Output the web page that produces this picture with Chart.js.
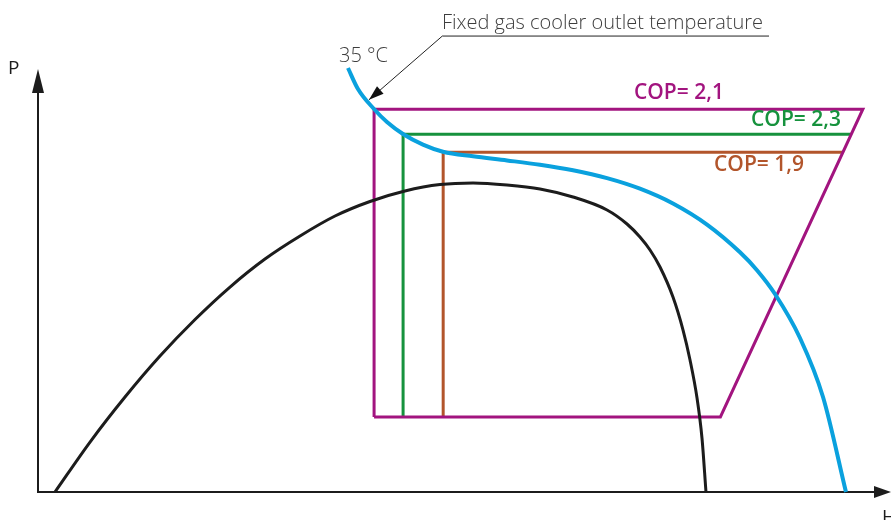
<!DOCTYPE html>
<html>
<head>
<meta charset="utf-8">
<script src="https://cdn.jsdelivr.net/npm/chart.js@4.4.1/dist/chart.umd.min.js"></script>
<style>
  body { margin: 0; background: #fff; }
  #wrap { width: 891px; height: 520px; }
</style>
</head>
<body>
<div id="wrap"><canvas id="phChart" width="891" height="520"></canvas></div>
<script>
// saturation dome (enthalpy H, pressure P) - schematic units
const domeH = [1.99, 6.10, 10.20, 14.30, 18.41, 22.51, 26.61, 30.72, 34.82, 38.92, 43.02, 47.13, 51.00, 54.98, 58.85, 62.72, 66.71, 69.05, 70.57, 71.75, 72.92, 74.44, 75.62, 76.44, 77.26, 77.84, 78.31];
const domeP = [0, 10.59, 20.13, 28.81, 36.55, 43.43, 49.36, 54.24, 58.47, 61.55, 63.77, 65.13, 65.47, 65.04, 64.19, 62.50, 59.75, 56.78, 54.03, 51.27, 47.67, 41.31, 34.32, 27.97, 19.92, 11.44, 0];

// 35 °C isotherm
const isoH = [36.34, 37.51, 39.39, 40.91, 42.79, 45.13, 47.48, 51.00, 54.98, 58.85, 62.72, 66.71, 70.57, 74.44, 78.43, 82.30, 84.29, 86.40, 89.33, 92.03, 94.72];
const isoP = [89.83, 85.38, 81.14, 78.39, 75.85, 73.60, 72.08, 71.12, 70.25, 69.34, 68.16, 66.50, 64.26, 61.12, 56.65, 50.78, 46.99, 41.95, 32.63, 20.13, 0];

// cycles
const cop21H = [39.4, 39.4, 96.7, 80.0, 39.4];
const cop21P = [15.9, 81.1, 81.1, 15.9, 15.9];
const cop23H = [42.8, 42.8, 95.3];
const cop23P = [15.9, 75.8, 75.8];
const cop19H = [47.5, 47.5, 94.4];
const cop19P = [15.9, 72.0, 72.0];

const copLabels = ['COP= 2,1', 'COP= 2,3', 'COP= 1,9'];
const axisEndH = 100;
const axisEndP = 89.6;

function pts(hs, ps) {
    return hs.map((h, i) => ({ x: h, y: ps[i] }));
}

const PURPLE = '#a2147f';
const GREEN = '#16923d';
const BROWN = '#b2552b';
const BLUE = '#0aa1de';
const INK = '#1c1c1c';
const GREY = '#3d3d3d';

// arrows, labels and leader line
const notesPlugin = {
    id: 'notes',
    afterDatasetsDraw(chart) {
        const ctx = chart.ctx;
        const xs = chart.scales.x, ys = chart.scales.y;
        const X = v => xs.getPixelForValue(v);
        const Y = v => ys.getPixelForValue(v);

        function arrowHead(tx, ty, fx, fy, len, half, color) {
            const a = Math.atan2(ty - fy, tx - fx);
            ctx.save();
            ctx.fillStyle = color;
            ctx.beginPath();
            ctx.moveTo(tx, ty);
            ctx.lineTo(tx - len * Math.cos(a) + half * Math.sin(a), ty - len * Math.sin(a) - half * Math.cos(a));
            ctx.lineTo(tx - len * Math.cos(a) - half * Math.sin(a), ty - len * Math.sin(a) + half * Math.cos(a));
            ctx.closePath();
            ctx.fill();
            ctx.restore();
        }

        // axis arrow heads
        arrowHead(X(0), Y(axisEndP), X(0), Y(0), 24, 6, INK);
        arrowHead(X(axisEndH), Y(0), X(0), Y(0), 17, 6, INK);

        ctx.save();
        ctx.fillStyle = INK;
        ctx.font = '19px "Open Sans"';
        ctx.textBaseline = 'middle';
        ctx.textAlign = 'left';
        ctx.fillText('P', 8, Y(axisEndP));
        ctx.fillText('H', 882, 518);

        // leader line to the isotherm
        const tipX = X(38.8), tipY = Y(83.1);
        const elbX = X(47.4), elbY = Y(96.6);
        ctx.strokeStyle = '#222';
        ctx.lineWidth = 1;
        ctx.beginPath();
        ctx.moveTo(X(85.7), elbY);
        ctx.lineTo(elbX, elbY);
        ctx.lineTo(tipX, tipY);
        ctx.stroke();
        arrowHead(tipX, tipY, elbX, elbY, 15, 5, '#111');

        ctx.fillStyle = GREY;
        ctx.font = '300 20px "Open Sans"';
        ctx.textBaseline = 'alphabetic';
        ctx.fillText('Fixed gas cooler outlet temperature', 442, 29);
        ctx.fillText('35 °C', 339, 62);

        // COP labels
        ctx.font = '600 21px "Open Sans"';
        ctx.textBaseline = 'middle';
        ctx.fillStyle = PURPLE;
        ctx.fillText(copLabels[0], 634, 93);
        ctx.textAlign = 'right';
        ctx.fillStyle = GREEN;
        ctx.fillText(copLabels[1], 841, 120);
        ctx.fillStyle = BROWN;
        ctx.fillText(copLabels[2], 804, 165);
        ctx.restore();
    }
};

const ctx = document.getElementById('phChart').getContext('2d');
new Chart(ctx, {
    type: 'scatter',
    data: {
        datasets: [
            { data: pts(domeH, domeP), borderColor: INK, borderWidth: 3, cubicInterpolationMode: 'monotone' },
            { data: pts(isoH, isoP), borderColor: BLUE, borderWidth: 4, cubicInterpolationMode: 'monotone' },
            { data: pts(cop21H, cop21P), borderColor: PURPLE, borderWidth: 3 },
            { data: pts(cop23H, cop23P), borderColor: GREEN, borderWidth: 3 },
            { data: pts(cop19H, cop19P), borderColor: BROWN, borderWidth: 3 },
            // axes
            { data: pts([0, 0, axisEndH - 1], [axisEndP - 3, 0, 0]), borderColor: INK, borderWidth: 2 }
        ]
    },
    options: {
        responsive: false,
        animation: false,
        layout: { padding: { left: 38, right: 0, top: 20, bottom: 28 } },
        datasets: {
            scatter: { showLine: true, pointRadius: 0, fill: false, clip: false, borderJoinStyle: 'miter' }
        },
        scales: {
            x: { type: 'linear', min: 0, max: 100, display: false },
            y: { type: 'linear', min: 0, max: 100, display: false }
        },
        plugins: {
            legend: { display: false },
            tooltip: { enabled: false }
        }
    },
    plugins: [notesPlugin]
});
</script>
</body>
</html>
